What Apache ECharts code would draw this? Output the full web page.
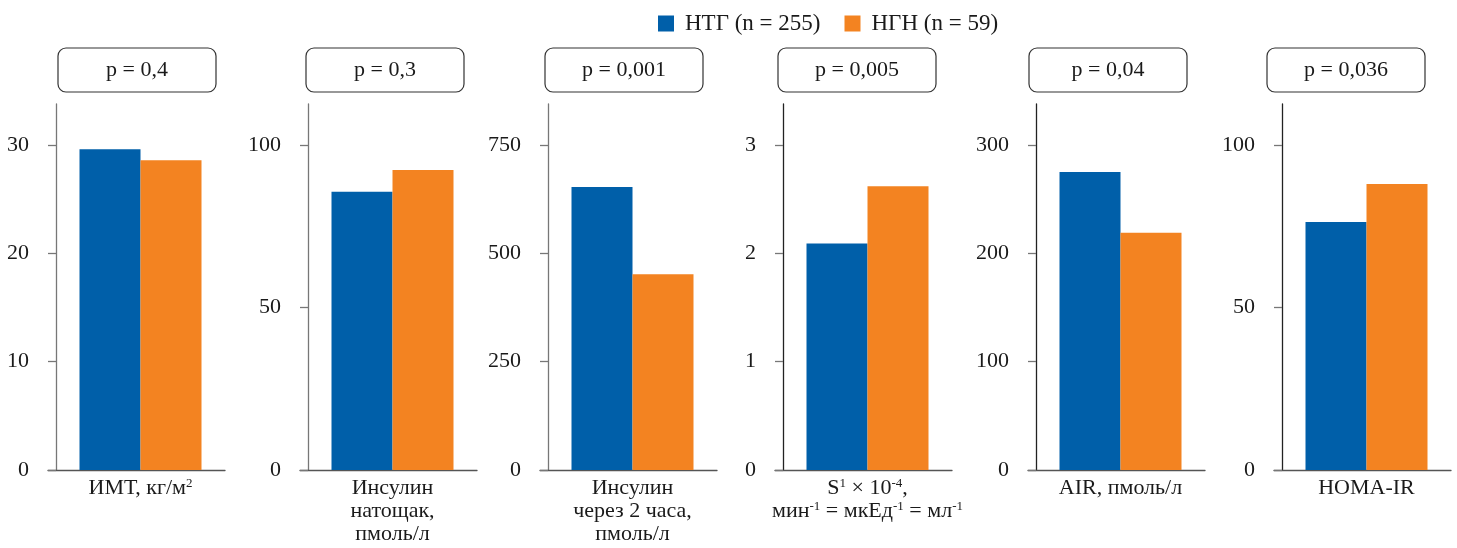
<!DOCTYPE html>
<html>
<head>
<meta charset="utf-8">
<style>html,body{margin:0;padding:0;background:#fff}#c{width:1457px;height:548px}</style>
<script src="https://cdn.jsdelivr.net/npm/echarts@6/dist/echarts.min.js"></script>
</head>
<body>
<div id="c"></div>
<script>
// ---- data ----
const seriesNames = ['НТГ (n = 255)', 'НГН (n = 59)'];
const categories = [
  'ИМТ, кг/м²',
  'Инсулин\nнатощак,\nпмоль/л',
  'Инсулин\nчерез 2 часа,\nпмоль/л',
  'S¹ × 10⁻⁴,\nмин⁻¹ = мкЕд⁻¹ = мл⁻¹',
  'AIR, пмоль/л',
  'HOMA-IR'
];
const ntgValues = [29.6, 85.6, 653, 2.09, 275, 76.3];
const ngnValues = [28.6, 92.3, 452, 2.62, 219, 88.0];
const pValues = ['p = 0,4', 'p = 0,3', 'p = 0,001', 'p = 0,005', 'p = 0,04', 'p = 0,036'];
const yTickLabels = [
  [0, 10, 20, 30],
  [0, 50, 100],
  [0, 250, 500, 750],
  [0, 1, 2, 3],
  [0, 100, 200, 300],
  [0, 50, 100]
];

// ---- layout ----
const colors = ['#005FA9', '#F38321'];
const axisX = [56, 308, 548, 783, 1036, 1282];
const panelW = 169;
const boxLeft = [58, 306, 545, 778, 1029, 1267];
const yAxisColor = ['#777', '#777', '#777', '#222', '#222', '#222'];
const FONT = '"Liberation Serif", "DejaVu Serif", serif';
const gridTop = 104, gridBottom = 78;

const supMap = {'⁻':'-','¹':'1','²':'2','³':'3','⁴':'4'};
function richLabel(v) {
  return v.split('\n').map(line =>
    line.replace(/([⁻¹²³⁴]+)|([^⁻¹²³⁴]+)/g, (m, s, n) =>
      s ? '{s|' + s.split('').map(c => supMap[c]).join('') + '}' : '{n|' + n + '}')
  ).join('\n');
}

const grid = [], xAxis = [], yAxis = [], series = [], title = [];
categories.forEach((cat, i) => {
  const top = yTickLabels[i][yTickLabels[i].length - 1];
  const interval = yTickLabels[i][1];
  grid.push({left: axisX[i], width: panelW, top: gridTop, bottom: gridBottom, outerBoundsMode: 'none'});
  grid.push({left: axisX[i] - 8, width: panelW + 8, top: gridTop, bottom: gridBottom, outerBoundsMode: 'none'});
  const gi = 2 * i;
  xAxis.push({
    type: 'category', gridIndex: gi, data: [cat],
    axisLine: {show: false}, axisTick: {show: false},
    axisLabel: {
      margin: 7, interval: 0, formatter: richLabel,
      rich: {
        n: {fontFamily: FONT, fontSize: 22, color: '#1a1a1a', lineHeight: 23},
        s: {fontFamily: FONT, fontSize: 13, color: '#1a1a1a', lineHeight: 23, verticalAlign: 'top', padding: [0, 0, 9, 0]}
      }
    }
  });
  xAxis.push({
    type: 'category', gridIndex: gi + 1, data: [''],
    axisLine: {show: true, lineStyle: {color: '#555', width: 1.3}},
    axisTick: {show: false}, axisLabel: {show: false}
  });
  yAxis.push({
    type: 'value', gridIndex: gi, min: 0, max: top * 366 / 325, interval: interval,
    axisLine: {show: true, lineStyle: {color: yAxisColor[i], width: 1.3}},
    axisTick: {show: true, length: 8, customValues: yTickLabels[i], lineStyle: {color: '#777', width: 1.3}},
    axisLabel: {customValues: yTickLabels[i], margin: 27, fontFamily: FONT, fontSize: 22, color: '#1a1a1a'},
    splitLine: {show: false}
  });
  yAxis.push({type: 'value', gridIndex: gi + 1, show: false, min: 0, max: 1, splitLine: {show: false}});
  series.push({
    name: seriesNames[0], type: 'bar', xAxisIndex: gi, yAxisIndex: gi,
    data: [ntgValues[i]], barWidth: 61, barGap: '0%', itemStyle: {color: colors[0]}
  });
  series.push({
    name: seriesNames[1], type: 'bar', xAxisIndex: gi, yAxisIndex: gi,
    data: [ngnValues[i]], barWidth: 61, barGap: '0%', itemStyle: {color: colors[1]}
  });
  title.push({
    text: '{b|' + pValues[i] + '}', left: boxLeft[i], top: 48, padding: 0,
    textStyle: {
      fontWeight: 'normal',
      rich: {
        b: {fontFamily: FONT, fontSize: 22, fontWeight: 'normal', color: '#1a1a1a', width: 158, height: 44, lineHeight: 44,
            align: 'center', borderColor: '#333', borderWidth: 1.2, borderRadius: 8}
      }
    }
  });
});

const chart = echarts.init(document.getElementById('c'), null, {renderer: 'canvas'});
chart.setOption({
  animation: false,
  color: colors,
  title: title,
  legend: {
    data: seriesNames, left: 658, top: 12, padding: 0, itemWidth: 16, itemHeight: 16, itemGap: 24,
    icon: 'rect',
    textStyle: {fontFamily: FONT, fontSize: 23, color: '#1a1a1a', padding: [0, 0, 0, 6]}
  },
  grid: grid, xAxis: xAxis, yAxis: yAxis, series: series
});
</script>
</body>
</html>
